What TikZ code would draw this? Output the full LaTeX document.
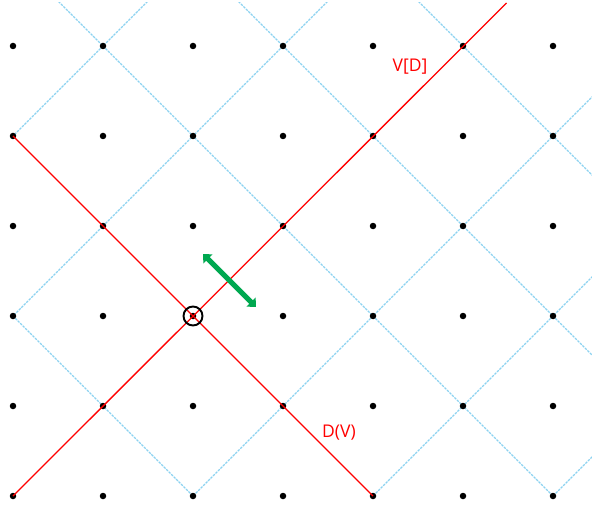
\documentclass[tikz,border=0pt]{standalone}
\usepackage{fontspec}
\setmainfont{Open Sans}
\usetikzlibrary{arrows.meta}
\definecolor{gridblue}{RGB}{140,210,240}
\definecolor{arrowgreen}{RGB}{0,168,80}
\tikzset{
  gridline/.style={gridblue, line width=1.1pt, dash pattern=on 2.5pt off 1pt},
  redline/.style={red, line width=1.3pt},
  dot/.style={circle, fill=black, inner sep=0pt, minimum size=6.5pt},
  lbl/.style={text=red, font=\fontsize{17.5}{20}\selectfont, inner sep=0pt},
}
\begin{document}
\begin{tikzpicture}[x=1pt,y=-1pt]
\useasboundingbox (0,0) rectangle (592,508);
\begin{scope}
\clip (13,3) rectangle (600,496);
% lines x - y = c
\foreach \c in {-303,57,237,417}{
  \draw[gridline] (\c-100,-100) -- (\c+700,700);
}
% lines x + y = c
\foreach \c in {149,329,689,869,1049}{
  \draw[gridline] (\c+100,-100) -- (\c-700,700);
}
\end{scope}
% dots
\foreach \i in {0,...,6}{
  \foreach \j in {0,...,5}{
    \node[dot] (d\i\j) at (13+90*\i,46+90*\j) {};
  }
}
\coordinate (vtop) at (506.5,3);
\draw[redline] (d01.center) -- (d45.center);
\draw[redline] (d05.center) -- (vtop);
\node[circle, draw=black, line width=1.9pt, minimum size=19pt, inner sep=0pt] (c) at (d23.center) {};
\coordinate (ga) at (203,254);
\coordinate (gb) at (256,307);
\draw[arrowgreen, line width=5pt, {Triangle[length=7pt,width=12.5pt]}-{Triangle[length=7pt,width=12.5pt]}] (ga) -- (gb);
\node[lbl] (vd) at (410,67) {V[D]};
\node[lbl] (dv) at (339,433) {D(V)};
\end{tikzpicture}
\end{document}
